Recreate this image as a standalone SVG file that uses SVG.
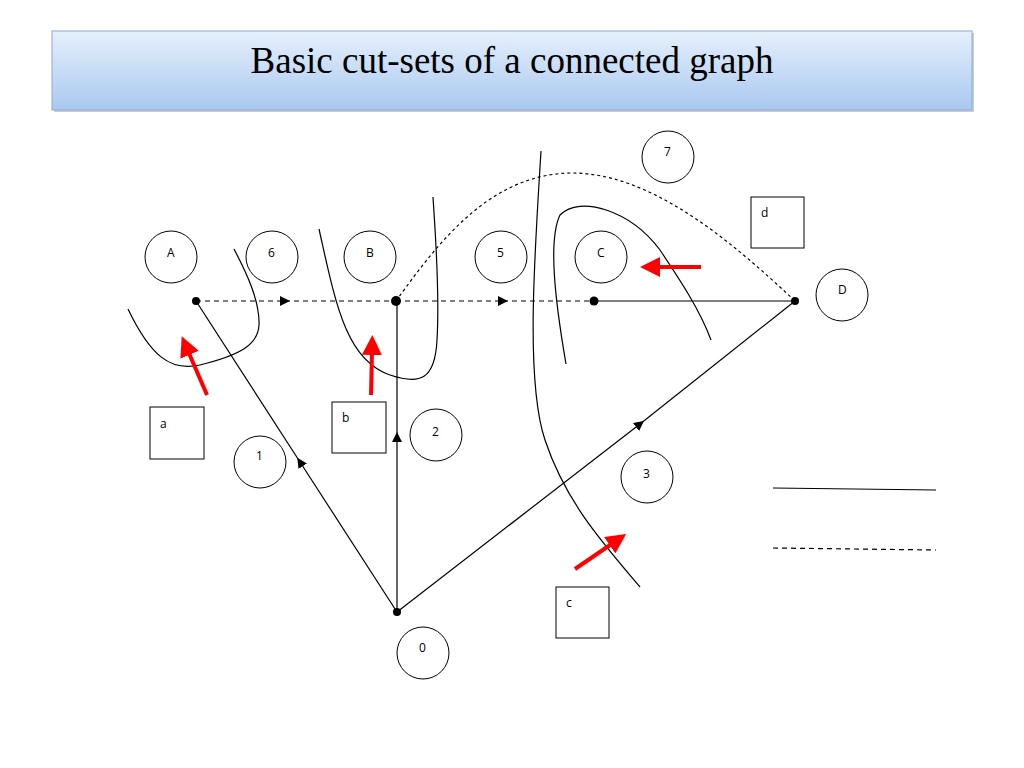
<svg xmlns="http://www.w3.org/2000/svg" width="1024" height="768" viewBox="0 0 1024 768">
<defs>
<linearGradient id="tg" x1="0" y1="0" x2="0" y2="1"><stop offset="0" stop-color="#e6f0fc"/><stop offset="1" stop-color="#a9c8f0"/></linearGradient>
<marker id="ah" viewBox="0 0 10 10" refX="5" refY="5" markerWidth="10" markerHeight="10" markerUnits="userSpaceOnUse" orient="auto"><path d="M0,0L10,5L0,10z" fill="#000"/></marker>
<marker id="rh" viewBox="0 0 10 10" refX="2" refY="5" markerWidth="5" markerHeight="5" orient="auto"><path d="M0,0L10,5L0,10z" fill="#f00"/></marker>
</defs>
<style>
.n circle{fill:#fff;stroke:#000;stroke-width:1}
.n rect{fill:#fff;stroke:#000;stroke-width:1}
text{font-family:"Open Sans","DejaVu Sans",sans-serif;font-size:12px;fill:#000}
.e{fill:none;stroke:#000;stroke-width:1.2}
.d{stroke-dasharray:5,4}
.cut{fill:none;stroke:#000;stroke-width:1.2}
.r{stroke:#f00;stroke-width:4;fill:none;marker-end:url(#rh)}
</style>
<rect width="1024" height="768" fill="#fff"/>
<g id="title"><rect x="54" y="33" width="920" height="79" fill="#c8ccd4"/><rect x="52" y="31" width="920" height="79" fill="url(#tg)" stroke="#8eaad0" stroke-width="1"/>
<text x="512" y="73" text-anchor="middle" style="font-family:'Liberation Serif',serif;font-size:37px">Basic cut-sets of a connected graph</text></g>
<g id="connectors">
<path class="e d" d="M196,301H285" marker-end="url(#ah)"/><path class="e d" d="M285,301H396"/>
<path class="e d" d="M396,301H503" marker-end="url(#ah)"/><path class="e d" d="M503,301H594"/>
<path class="e" d="M594,301H795"/>
<path class="e" d="M396,301C440,240 490,175 570,173C650,172 730,240 795,301" stroke-dasharray="3,3"/>
<path class="e" d="M397,612V437" marker-end="url(#ah)"/><path class="e" d="M397,437V301"/>
<path class="e" d="M397,612L300,462" marker-end="url(#ah)"/><path class="e" d="M300,462L196,301"/>
<path class="e" d="M397,612L640,424" marker-end="url(#ah)"/><path class="e" d="M640,424L795,301"/>
<circle cx="196" cy="301" r="4"/><circle cx="396" cy="301" r="5"/><circle cx="594" cy="301" r="4.5"/><circle cx="795" cy="301" r="4"/><circle cx="397" cy="612" r="4"/>
</g>
<g id="cuts">
<path class="cut" d="M128,309C150,355 170,372 200,365C240,355 258,345 259,325C260,300 245,270 234,249"/>
<path class="cut" d="M319,229C335,300 345,360 390,375C420,385 435,380 437,340C440,290 435,230 433,197"/>
<path class="cut" d="M541,151C535,250 525,380 545,440C565,500 600,540 640,587"/>
<path class="cut" d="M566,364C555,300 548,240 560,215C580,195 630,210 660,250C680,280 700,310 711,340"/>
<path class="cut" d="M773,488L936,490"/><path class="cut" d="M773,548L936,550" stroke-dasharray="5,4"/>
</g>
<g id="arrows">
<path class="r" d="M207,395L188,351"/><path class="r" d="M371,395L372,351"/><path class="r" d="M575,569L613,543"/><path class="r" d="M701,267L656,267"/>
</g>
<g id="nA" class="n"><circle cx="171" cy="257" r="26"/><text x="167" y="257">A</text></g>
<g id="n6" class="n"><circle cx="272" cy="257" r="26"/><text x="268" y="257">6</text></g>
<g id="nB" class="n"><circle cx="370" cy="257" r="26"/><text x="366" y="257">B</text></g>
<g id="n5" class="n"><circle cx="501" cy="257" r="26"/><text x="497" y="257">5</text></g>
<g id="nC" class="n"><circle cx="601" cy="257" r="26"/><text x="597" y="257">C</text></g>
<g id="n7" class="n"><circle cx="668" cy="157" r="26"/><text x="664" y="156">7</text></g>
<g id="nD" class="n"><circle cx="842" cy="295" r="26"/><text x="838" y="294">D</text></g>
<g id="n1" class="n"><circle cx="260" cy="462" r="26"/><text x="256" y="460">1</text></g>
<g id="n2" class="n"><circle cx="436" cy="435" r="26"/><text x="432" y="436">2</text></g>
<g id="n3" class="n"><circle cx="647" cy="477" r="26"/><text x="643" y="478">3</text></g>
<g id="n0" class="n"><circle cx="423" cy="653" r="26"/><text x="419" y="652">0</text></g>
<g id="ba" class="n"><rect x="150" y="407" width="54" height="52"/><text x="160" y="428">a</text></g>
<g id="bb" class="n"><rect x="332" y="402" width="54" height="51"/><text x="342" y="422">b</text></g>
<g id="bc" class="n"><rect x="556" y="587" width="53" height="51"/><text x="566" y="607">c</text></g>
<g id="bd" class="n"><rect x="751" y="197" width="53" height="51"/><text x="761" y="217">d</text></g>
</svg>
